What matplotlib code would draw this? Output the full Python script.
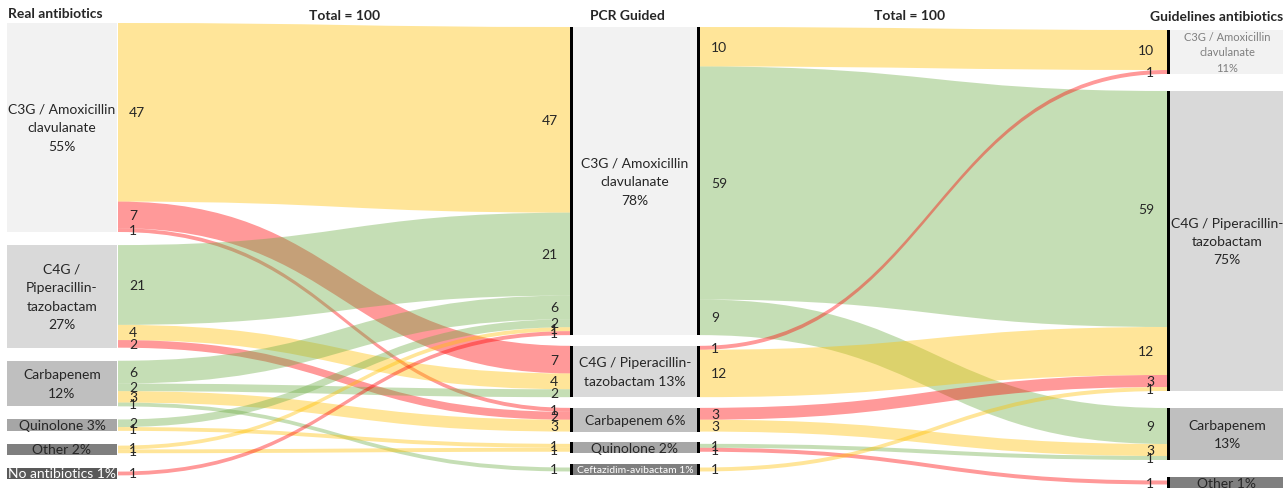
import matplotlib
matplotlib.use("Agg")
import matplotlib.pyplot as plt
from matplotlib.path import Path
from matplotlib.patches import PathPatch, Rectangle

plt.rcParams['font.family'] = ['Lato', 'DejaVu Sans']

# node labels for the three columns
real_labels = ["C3G / Amoxicillin\nclavulanate\n55%", "C4G /\nPiperacillin-\ntazobactam\n27%",
               "Carbapenem\n12%", "Quinolone 3%", "Other 2%", "No antibiotics 1%"]
pcr_labels = ["C3G / Amoxicillin\nclavulanate\n78%", "C4G / Piperacillin-\ntazobactam 13%",
              "Carbapenem 6%", "Quinolone 2%", "Ceftazidim-avibactam 1%"]
guide_labels = ["C3G / Amoxicillin\nclavulanate\n11%", "C4G / Piperacillin-\ntazobactam\n75%",
                "Carbapenem\n13%", "Other 1%"]

# flows real -> PCR guided (source index, target index, count, kind)
real_src = [0, 0, 0, 1, 1, 1, 2, 2, 2, 2, 3, 3, 4, 4, 5]
real_dst = [0, 1, 2, 0, 1, 2, 0, 1, 2, 4, 0, 3, 0, 3, 0]
real_val = [47, 7, 1, 21, 4, 2, 6, 2, 3, 1, 2, 1, 1, 1, 1]
real_kind = ['same', 'up', 'up', 'down', 'same', 'up', 'down', 'down', 'same', 'down',
             'down', 'same', 'same', 'same', 'up']

# flows PCR guided -> guidelines
pcr_src = [0, 0, 0, 1, 1, 2, 2, 3, 3, 4]
pcr_dst = [0, 1, 2, 0, 1, 1, 2, 2, 3, 1]
pcr_val = [10, 59, 9, 1, 12, 3, 3, 1, 1, 1]
pcr_kind = ['same', 'down', 'down', 'up', 'same', 'up', 'same', 'down', 'up', 'same']

kind_color = {'same': '#FFC000', 'down': '#70AD47', 'up': '#FF0000'}
box_colors = ['#F2F2F2', '#D9D9D9', '#BFBFBF', '#A6A6A6', '#7F7F7F', '#595959']
TXT = '#262626'
FS = 10


def totals(idx, vals, n):
    t = [0] * n
    for i, v in zip(idx, vals):
        t[i] += v
    return t


def layout(values, k, top, bottom, min_h=11):
    hs = [max(v * k, min_h) for v in values]
    gap = (bottom - top - sum(hs)) / (len(hs) - 1)
    tops, y = [], top
    for h in hs:
        tops.append(y)
        y += h + gap
    return tops, hs


def band(ax, x0, x1, y0, w0, y1, w1, color):
    xm = (x0 + x1) / 2
    verts = [(x0, y0), (xm, y0), (xm, y1), (x1, y1), (x1, y1 + w1),
             (xm, y1 + w1), (xm, y0 + w0), (x0, y0 + w0), (x0, y0)]
    codes = [Path.MOVETO, Path.CURVE4, Path.CURVE4, Path.CURVE4, Path.LINETO,
             Path.CURVE4, Path.CURVE4, Path.CURVE4, Path.CLOSEPOLY]
    ax.add_patch(PathPatch(Path(verts, codes), fc=color, alpha=0.4, lw=0, zorder=1))


real_tot = totals(real_src, real_val, len(real_labels))
pcr_tot = totals(real_dst, real_val, len(pcr_labels))
guide_tot = totals(pcr_dst, pcr_val, len(guide_labels))

k_real, k_pcr, k_guide = 3.8, 3.95, 4.0
real_top, real_h = layout(real_tot, k_real, 24, 480)
pcr_top, pcr_h = layout(pcr_tot, k_pcr, 28, 476)
guide_top, guide_h = layout(guide_tot, k_guide, 31, 489)

fig = plt.figure(figsize=(12.88, 4.89), dpi=100)
ax = fig.add_axes([0, 0, 1, 1])
ax.set_xlim(0, 1288)
ax.set_ylim(489, 0)
ax.axis('off')


def draw_stage(src, dst, vals, kinds, s_top, s_h, s_tot, ks, t_top, t_h, t_tot, kt, x0, x1):
    s_cur = [s_top[i] + (s_h[i] - s_tot[i] * ks) / 2 for i in range(len(s_top))]
    t_cur = [t_top[i] + (t_h[i] - t_tot[i] * kt) / 2 for i in range(len(t_top))]
    for s, t, v, kd in zip(src, dst, vals, kinds):
        w0, w1 = v * ks, v * kt
        band(ax, x0, x1, s_cur[s], w0, t_cur[t], w1, kind_color[kd])
        ax.text(x0 + 11, s_cur[s] + w0 / 2, str(v), ha='left', va='center',
                fontsize=FS, color=TXT, zorder=3)
        ax.text(x1 - 13, t_cur[t] + w1 / 2, str(v), ha='right', va='center',
                fontsize=FS, color=TXT, zorder=3)
        s_cur[s] += w0
        t_cur[t] += w1


draw_stage(real_src, real_dst, real_val, real_kind, real_top, real_h, real_tot, k_real,
           pcr_top, pcr_h, pcr_tot, k_pcr, 118, 571)
draw_stage(pcr_src, pcr_dst, pcr_val, pcr_kind, pcr_top, pcr_h, pcr_tot, k_pcr,
           guide_top, guide_h, guide_tot, k_guide, 700, 1167)

# left column boxes
for i, lab in enumerate(real_labels):
    ax.add_patch(Rectangle((7, real_top[i]), 110, real_h[i], fc=box_colors[i], lw=0, zorder=2))
    tc = 'white' if i == 5 else TXT
    ax.text(62, real_top[i] + real_h[i] / 2, lab, ha='center', va='center', fontsize=FS,
            color=tc, linespacing=1.65, zorder=3)

# middle column boxes with black edges
for i, lab in enumerate(pcr_labels):
    ax.add_patch(Rectangle((572, pcr_top[i]), 127, pcr_h[i], fc=box_colors[i], lw=0, zorder=2))
    ax.add_patch(Rectangle((570.5, pcr_top[i]), 3, pcr_h[i], fc='black', lw=0, zorder=3))
    ax.add_patch(Rectangle((697.5, pcr_top[i]), 3, pcr_h[i], fc='black', lw=0, zorder=3))
    tc = 'white' if i == 4 else TXT
    fs = 7.5 if i == 4 else FS
    ax.text(635, pcr_top[i] + pcr_h[i] / 2, lab, ha='center', va='center', fontsize=fs,
            color=tc, linespacing=1.65, zorder=4)

# right column boxes
guide_colors = ['#F2F2F2', '#D9D9D9', '#BFBFBF', '#7F7F7F']
for i, lab in enumerate(guide_labels):
    ax.add_patch(Rectangle((1170, guide_top[i]), 113, guide_h[i], fc=guide_colors[i], lw=0, zorder=2))
    ax.add_patch(Rectangle((1167, guide_top[i]), 3.5, guide_h[i], fc='black', lw=0, zorder=3))
    tc = '#7F7F7F' if i == 0 else TXT
    fs = 8 if i == 0 else FS
    ax.text(1227, guide_top[i] + guide_h[i] / 2, lab, ha='center', va='center', fontsize=fs,
            color=tc, linespacing=1.55 if i == 0 else 1.65, zorder=4)

# headers
hdr = dict(fontsize=FS, fontweight='bold', color=TXT, va='center')
ax.text(8, 14, "Real antibiotics", ha='left', **hdr)
ax.text(345, 16, "Total = 100", ha='center', **hdr)
ax.text(627, 16, "PCR Guided", ha='center', **hdr)
ax.text(910, 16, "Total = 100", ha='center', **hdr)
ax.text(1283, 17, "Guidelines antibiotics", ha='right', **hdr)

fig.savefig("out.png", dpi=100)
